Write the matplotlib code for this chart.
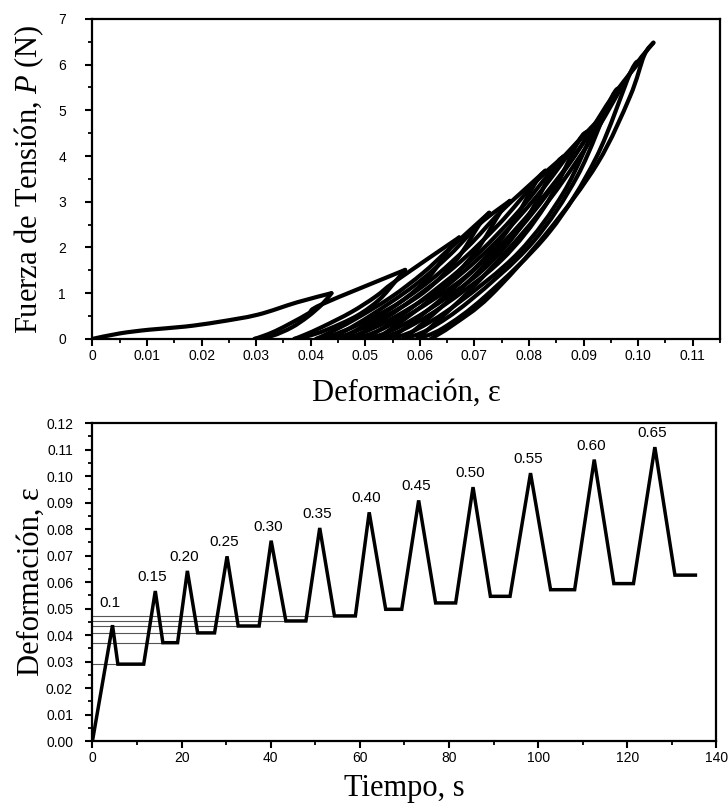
import matplotlib
matplotlib.use('Agg')
import matplotlib.pyplot as plt
from matplotlib.path import Path
from matplotlib.patches import PathPatch
from matplotlib.ticker import MultipleLocator, FuncFormatter

# --- datos: ciclos carga / descarga (fuerza vs deformación) ---
carga_eps = [
    [0, 0.005, 0.0103, 0.017, 0.023, 0.0303, 0.0375, 0.0438],
    [0.0297, 0.0312, 0.0335, 0.0366, 0.0396, 0.0421, 0.0573],
    [0.037, 0.0389, 0.0422, 0.0474, 0.0519, 0.0556, 0.0672],
    [0.041, 0.0435, 0.0479, 0.0547, 0.0606, 0.0655, 0.0727],
    [0.0435, 0.0463, 0.0512, 0.0589, 0.0655, 0.0710, 0.0765],
    [0.0455, 0.0484, 0.0537, 0.0619, 0.0689, 0.0748, 0.0830],
    [0.0475, 0.0509, 0.0570, 0.0664, 0.0745, 0.0813, 0.0863],
    [0.050, 0.0535, 0.0597, 0.0694, 0.0777, 0.0846, 0.0906],
    [0.052, 0.0557, 0.0623, 0.0727, 0.0815, 0.0889, 0.0942],
    [0.0545, 0.0583, 0.0651, 0.0758, 0.0849, 0.0925, 0.0967],
    [0.057, 0.0608, 0.0676, 0.0783, 0.0874, 0.0950, 0.1003],
    [0.0595, 0.0634, 0.0705, 0.0814, 0.0908, 0.0986, 0.1028],
]
carga_P = [
    [0, 0.12, 0.2, 0.27, 0.37, 0.53, 0.8, 1.0],
    [0, 0.06, 0.17, 0.36, 0.56, 0.76, 1.51],
    [0, 0.089, 0.267, 0.584, 0.927, 1.27, 2.22],
    [0, 0.139, 0.416, 0.911, 1.445, 1.98, 2.76],
    [0, 0.176, 0.529, 1.159, 1.84, 2.52, 3.02],
    [0, 0.195, 0.584, 1.279, 2.029, 2.78, 3.68],
    [0, 0.241, 0.722, 1.582, 2.511, 3.44, 3.99],
    [0, 0.263, 0.788, 1.725, 2.738, 3.75, 4.53],
    [0, 0.3, 0.901, 1.973, 3.132, 4.29, 4.97],
    [0, 0.331, 0.993, 2.176, 3.453, 4.73, 5.49],
    [0, 0.368, 1.103, 2.415, 3.833, 5.25, 6.07],
    [0, 0.408, 1.224, 2.682, 4.256, 5.83, 6.48],
]
descarga_eps = [
    [0.0438, 0.0421, 0.0395, 0.0365, 0.0330, 0.0297],
    [0.0573, 0.0556, 0.0526, 0.0485, 0.0430, 0.0392, 0.037],
    [0.0672, 0.0655, 0.0616, 0.0562, 0.0488, 0.0439, 0.041],
    [0.0727, 0.0710, 0.0666, 0.0606, 0.0523, 0.0468, 0.0435],
    [0.0765, 0.0748, 0.0701, 0.0637, 0.0549, 0.0490, 0.0455],
    [0.0830, 0.0813, 0.0759, 0.0685, 0.0583, 0.0516, 0.0475],
    [0.0863, 0.0846, 0.0791, 0.0715, 0.0611, 0.0542, 0.050],
    [0.0906, 0.0889, 0.0830, 0.0749, 0.0638, 0.0564, 0.052],
    [0.0942, 0.0925, 0.0864, 0.0781, 0.0667, 0.0591, 0.0545],
    [0.0967, 0.0950, 0.0889, 0.0806, 0.0692, 0.0616, 0.057],
    [0.1003, 0.0986, 0.0923, 0.0837, 0.0720, 0.0642, 0.0595],
    [0.1028, 0.1011, 0.0985, 0.0926, 0.0832, 0.0728, 0.066, 0.062],
]
descarga_P = [
    [1.0, 0.76, 0.49, 0.25, 0.07, 0],
    [1.51, 1.27, 0.864, 0.508, 0.203, 0.051, 0],
    [2.22, 1.98, 1.346, 0.792, 0.317, 0.079, 0],
    [2.76, 2.52, 1.714, 1.008, 0.403, 0.101, 0],
    [3.02, 2.78, 1.89, 1.112, 0.445, 0.111, 0],
    [3.68, 3.44, 2.339, 1.376, 0.55, 0.138, 0],
    [3.99, 3.75, 2.55, 1.5, 0.6, 0.15, 0],
    [4.53, 4.29, 2.917, 1.716, 0.686, 0.172, 0],
    [4.97, 4.73, 3.216, 1.892, 0.757, 0.189, 0],
    [5.49, 5.25, 3.57, 2.1, 0.84, 0.21, 0],
    [6.07, 5.83, 3.964, 2.332, 0.933, 0.233, 0],
    [6.48, 6.2, 5.3, 3.85, 2.31, 0.93, 0.3, 0],
]

# --- datos: deformación vs tiempo ---
tiempo = [0, 4.5, 5.7, 11.5, 14.1, 15.8, 19.1, 21.3, 23.6, 27.4, 30.2, 32.7,
          37.4, 40.1, 43.4, 47.9, 51.0, 54.3, 59.0, 62.1, 65.8, 69.4, 73.2,
          77.0, 81.5, 85.4, 89.3, 93.7, 98.3, 102.8, 108.2, 112.6, 117.0,
          121.4, 126.2, 130.7, 135.3]
deformacion = [0, 0.0437, 0.029, 0.029, 0.0566, 0.0371, 0.0371, 0.0642,
               0.0408, 0.0408, 0.0697, 0.0434, 0.0434, 0.0756, 0.0453, 0.0453,
               0.0804, 0.0472, 0.0472, 0.0863, 0.0497, 0.0497, 0.0908, 0.0521,
               0.0521, 0.0958, 0.0546, 0.0546, 0.1011, 0.0571, 0.0571, 0.1062,
               0.0594, 0.0594, 0.1109, 0.0626, 0.0626]
etiquetas = ['0.1', '0.15', '0.20', '0.25', '0.30', '0.35', '0.40', '0.45',
             '0.50', '0.55', '0.60', '0.65']

fuente_ticks = ['Liberation Sans', 'DejaVu Sans']
fuente_label = ['Liberation Serif', 'DejaVu Serif']
plt.rcParams['mathtext.fontset'] = 'custom'
plt.rcParams['mathtext.it'] = 'Liberation Serif:italic'
plt.rcParams['mathtext.rm'] = 'Liberation Serif'


def curva(ax, xs, ys, lw):
    # trazo suave (Bezier tipo Catmull-Rom) que pasa por los puntos leidos
    pts = list(zip(xs, ys))
    verts = [pts[0]]
    codes = [Path.MOVETO]
    n = len(pts)
    for i in range(n - 1):
        p0 = pts[i - 1] if i > 0 else pts[i]
        p1, p2 = pts[i], pts[i + 1]
        p3 = pts[i + 2] if i + 2 < n else p2
        c1 = (p1[0] + (p2[0] - p0[0]) / 6, p1[1] + (p2[1] - p0[1]) / 6)
        c2 = (p2[0] - (p3[0] - p1[0]) / 6, p2[1] - (p3[1] - p1[1]) / 6)
        verts += [c1, c2, p2]
        codes += [Path.CURVE4] * 3
    ax.add_patch(PathPatch(Path(verts, codes), fill=False, edgecolor='black',
                           lw=lw, joinstyle='round', capstyle='round'))


fig = plt.figure(figsize=(7.28, 8.05), dpi=100)
ax1 = fig.add_axes([0.127, 0.579, 0.862, 0.3975])
ax2 = fig.add_axes([0.127, 0.0795, 0.857, 0.395])

# panel superior
for i in range(len(carga_eps)):
    curva(ax1, carga_eps[i], carga_P[i], 3.0)
    curva(ax1, descarga_eps[i], descarga_P[i], 3.0)
ax1.set_xlim(0, 0.115)
ax1.set_ylim(0, 7)
ax1.xaxis.set_major_locator(MultipleLocator(0.01))
ax1.xaxis.set_minor_locator(MultipleLocator(0.005))
ax1.yaxis.set_major_locator(MultipleLocator(1))
ax1.yaxis.set_minor_locator(MultipleLocator(0.5))
ax1.xaxis.set_major_formatter(FuncFormatter(lambda v, p: '0' if abs(v) < 1e-9 else '%.2f' % v))
ax1.yaxis.set_major_formatter(FuncFormatter(lambda v, p: '%d' % round(v)))
ax1.set_xlabel('Deformación, ε', family=fuente_label, fontsize=22, labelpad=12)
ax1.set_ylabel('Fuerza de Tensión, $P$ (N)', family=fuente_label, fontsize=22, labelpad=9)

# panel inferior
niveles = [deformacion[i] for i in range(2, 18, 3)]
fines = [tiempo[i] for i in range(2, 18, 3)]
for y, x1 in zip(niveles, fines):
    ax2.plot([0, x1], [y, y], color='#555555', lw=0.8)
ax2.plot(tiempo, deformacion, color='black', lw=2.5, solid_joinstyle='miter')
picos = list(range(1, len(tiempo), 3))
for k, idx in enumerate(picos):
    extra = 11 if k == 0 else 5
    ax2.annotate(etiquetas[k], (tiempo[idx], deformacion[idx]),
                 xytext=(-2, extra), textcoords='offset points',
                 ha='center', va='bottom', fontsize=11, family=fuente_ticks)
ax2.set_xlim(0, 140)
ax2.set_ylim(0, 0.12)
ax2.xaxis.set_major_locator(MultipleLocator(20))
ax2.xaxis.set_minor_locator(MultipleLocator(10))
ax2.yaxis.set_major_locator(MultipleLocator(0.01))
ax2.yaxis.set_minor_locator(MultipleLocator(0.005))
ax2.yaxis.set_major_formatter(FuncFormatter(lambda v, p: '%.2f' % v))
ax2.set_xlabel('Tiempo, s', family=fuente_label, fontsize=22, labelpad=7)
ax2.set_ylabel('Deformación, ε', family=fuente_label, fontsize=22, labelpad=0)

for ax in (ax1, ax2):
    for s in ax.spines.values():
        s.set_linewidth(1.6)
    ax.tick_params(which='major', direction='out', length=5, width=1.5,
                   labelsize=10, top=False, right=False)
    ax.tick_params(which='minor', direction='out', length=3, width=1.3,
                   top=False, right=False)
    ax.tick_params(axis='x', pad=2)
    ax.tick_params(axis='y', pad=9)
    for lab in ax.get_xticklabels() + ax.get_yticklabels():
        lab.set_family(fuente_ticks)
ax1.tick_params(axis='y', pad=14)

fig.savefig('out.png', dpi=100)
